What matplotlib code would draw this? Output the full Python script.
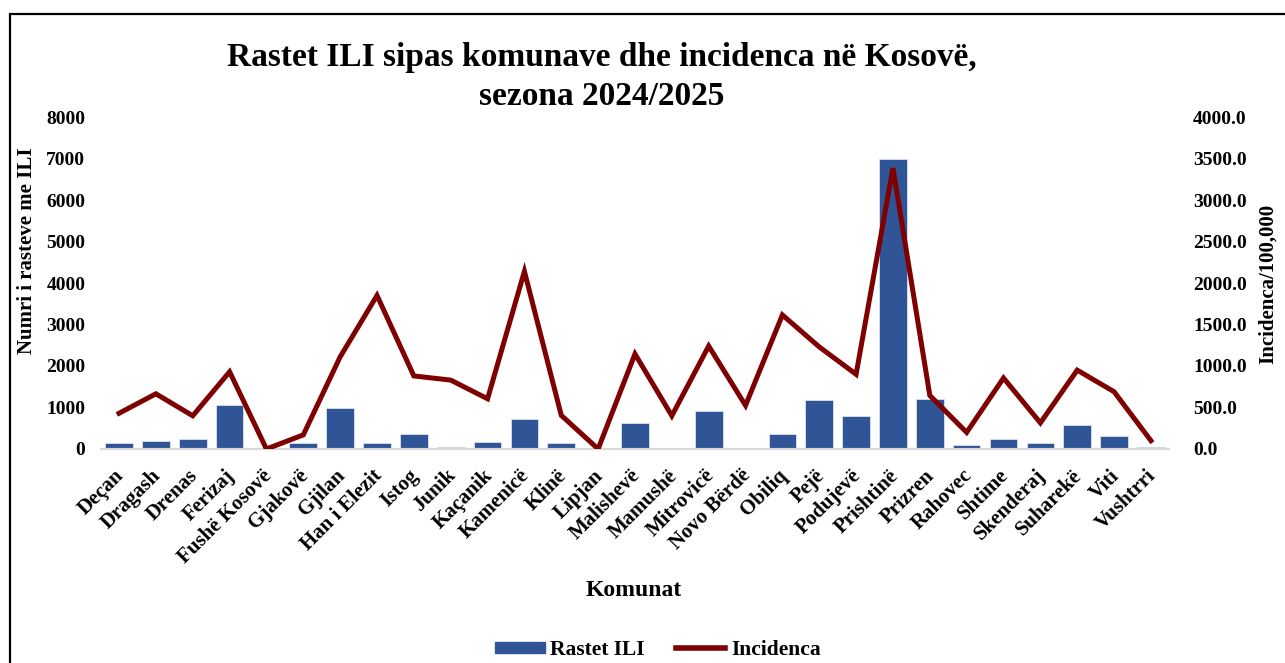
import matplotlib
matplotlib.use("Agg")
from matplotlib import pyplot as plt
from matplotlib.patches import Rectangle
from matplotlib.lines import Line2D
from matplotlib.patches import Patch
from matplotlib.transforms import ScaledTranslation

plt.rcParams['font.family'] = ['Liberation Serif', 'DejaVu Serif']
plt.rcParams['font.weight'] = 'bold'

# 数据
komunat = ["Deçan", "Dragash", "Drenas", "Ferizaj", "Fushë Kosovë", "Gjakovë", "Gjilan",
           "Han i Elezit", "Istog", "Junik", "Kaçanik", "Kamenicë", "Klinë", "Lipjan",
           "Malishevë", "Mamushë", "Mitrovicë", "Novo Bërdë", "Obiliq", "Pejë", "Podujevë",
           "Prishtinë", "Prizren", "Rahovec", "Shtime", "Skenderaj", "Suharekë", "Viti",
           "Vushtrri"]
rastet_ili = [150, 200, 240, 1050, 0, 150, 990, 150, 350, 45, 180, 730, 150, 0,
              620, 0, 905, 0, 350, 1175, 795, 6990, 1205, 100, 230, 150, 570, 315, 40]
incidenca = [430, 665, 400, 930, 0, 170, 1110, 1850, 880, 830, 605, 2140, 405, 0,
             1145, 400, 1240, 525, 1615, 1230, 900, 3385, 645, 200, 855, 315, 950, 690, 100]

fig = plt.figure(figsize=(12.85, 6.63), dpi=100)
ax = fig.add_axes([0.0783, 0.3228, 0.8317, 0.5007])
ax2 = ax.twinx()

x = range(len(komunat))
ax.bar(x, rastet_ili, width=0.75, color="#2F5597", edgecolor="#DCE3F0", linewidth=0.6, zorder=2)
ax2.plot(x, incidenca, color="#7F0000", linewidth=3.6, solid_joinstyle="miter", zorder=3)

ax.set_xlim(-0.5, len(komunat) - 0.5)
ax.set_ylim(0, 8000)
ax2.set_ylim(0, 4000)
ax.set_yticks(range(0, 8001, 1000))
ax2.set_yticks(range(0, 4001, 500))
ax2.set_yticklabels(["{:.1f}".format(v) for v in range(0, 4001, 500)])

ax.set_xticks(list(x))
ax.set_xticklabels(komunat, rotation=45, ha="right", rotation_mode="anchor", fontsize=15,
                   fontweight="bold")
ax.tick_params(axis="x", length=0, pad=12)
ax.tick_params(axis="y", length=0, labelsize=14, pad=11)
ax2.tick_params(axis="y", length=0, labelsize=14, pad=17)
# x刻度标签稍微左移
offset = ScaledTranslation(-5 / 100, 0, fig.dpi_scale_trans)
for lbl in ax.get_xticklabels():
    lbl.set_transform(lbl.get_transform() + offset)
for lbl in ax.get_yticklabels() + ax2.get_yticklabels():
    lbl.set_fontweight("bold")

for a in (ax, ax2):
    for s in ("top", "left", "right"):
        a.spines[s].set_visible(False)
    a.spines["bottom"].set_color("#D9D9D9")
    a.spines["bottom"].set_linewidth(1.5)

# 轴标题
fig.text(27 / 1285, 1 - 251 / 663, "Numri i rasteve me ILI", rotation=90, ha="center", va="center",
         fontsize=15, fontweight="bold")
fig.text(1268 / 1285, 1 - 284 / 663, "Incidenca/100,000", rotation=90, ha="center", va="center",
         fontsize=15, fontweight="bold")
fig.text(634 / 1285, 1 - 591 / 663, "Komunat", ha="center", va="center", fontsize=17,
         fontweight="bold")

fig.text(602 / 1285, 1 - 77 / 663, "Rastet ILI sipas komunave dhe incidenca në Kosovë,\nsezona 2024/2025",
         ha="center", va="center", fontsize=24, fontweight="bold", linespacing=1.35)

handles = [Patch(color="#2F5597", label="Rastet ILI"),
           Line2D([0], [0], color="#7F0000", linewidth=4, label="Incidenca")]
fig.legend(handles=handles, loc="center", bbox_to_anchor=(658 / 1285, 1 - 650 / 663), ncol=2,
           frameon=False, prop={"size": 15.5, "weight": "bold"}, handlelength=2.3, handleheight=0.45,
           columnspacing=1.45, handletextpad=0.25)

# 外框
fig.patches.append(Rectangle((10 / 1285, -0.05), 1.1, 0.05 + 1 - 14 / 663, transform=fig.transFigure,
                             fill=False, edgecolor="black", linewidth=1.6))

plt.savefig("out.png", dpi=100)
